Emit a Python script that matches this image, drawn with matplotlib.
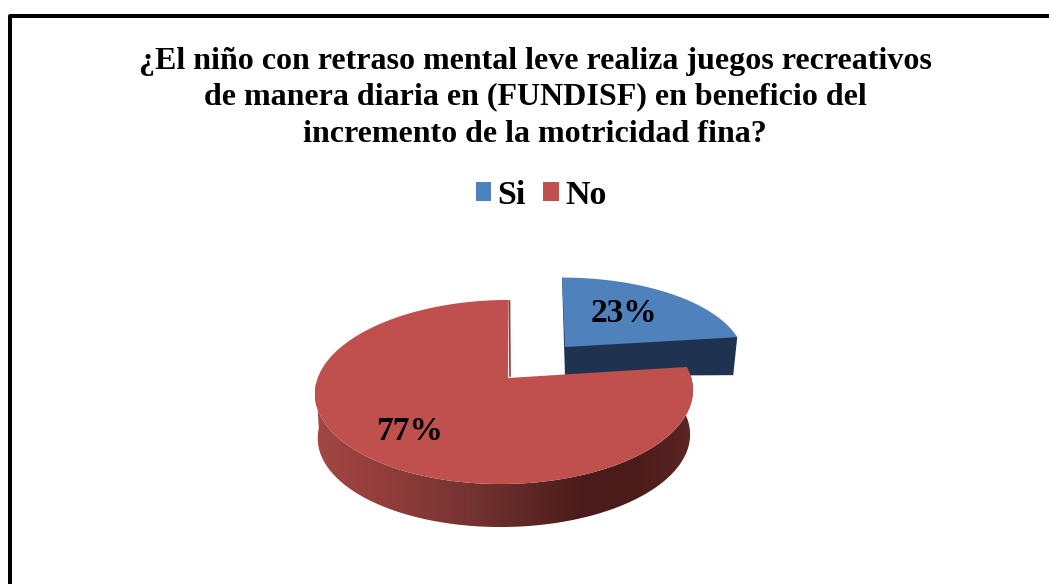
import numpy as np
import matplotlib
matplotlib.use("Agg")
import matplotlib.pyplot as plt
from matplotlib.colors import LinearSegmentedColormap
from matplotlib.patches import Polygon, Patch

categories = ["Si", "No"]
values = [23, 77]
title_lines = ["¿El niño con retraso mental leve realiza juegos recreativos",
               "de manera diaria en (FUNDISF) en beneficio del",
               "incremento de la motricidad fina?"]
top_colors = ["#4F81BD", "#C0504D"]
blue_side = "#1F3350"
red_edge = "#8E3B39"
gradient = ["#A24744", "#973F3D", "#853937", "#723230", "#5E2725", "#4A1B1A", "#4C1C1B", "#5C2624"]

plt.rcParams["font.family"] = ["Liberation Serif", "DejaVu Serif"]
plt.rcParams["font.weight"] = "bold"
W, H = 1049, 584
fig = plt.figure(figsize=(W / 100, H / 100), dpi=100, facecolor="white")
ax = fig.add_axes([0, 0, 1, 1])
ax.set_xlim(0, W)
ax.set_ylim(H, 0)
ax.axis("off")

ax.plot([10, 10, W + 5], [H + 5, 16, 16], color="black", lw=2.9, solid_joinstyle="round", zorder=1)

for line, y in zip(title_lines, [61, 97, 134]):
    ax.text(535, y, line, ha="center", va="center", fontsize=23, fontweight="bold", color="black")


def rim(theta, cx, cy, a, b, k, skew, drop=0.0, scale=1.0):
    X, Y = np.sin(theta), np.cos(theta)
    w = 1 + k * Y
    return np.column_stack([cx + scale * (b * X / w + skew * Y),
                            cy - scale * a * Y / w + drop])


frac = np.array(values) / sum(values)
split = 2 * np.pi * frac[0]

# Blue slice
bcfg = dict(cx=562, cy=347, a=80, b=180, k=0.152, skew=0)
bt = np.linspace(0, split, 120)
bar = rim(bt, **bcfg)
b_apex = np.array([565, 347])
ax.add_patch(Polygon(np.vstack([bar[:1], [b_apex[0], 376], [bar[-1][0] - 4, bar[-1][1] + 38], bar[-1:]]),
                     fc=blue_side, ec="none", zorder=2))
ax.add_patch(Polygon(np.vstack([bar, b_apex]), fc=top_colors[0], ec="none", zorder=3))

# Red slice
rcfg = dict(cx=504.5, cy=378, a=89.9, b=186.8, k=0.152, skew=4)
rt = np.linspace(split, 2 * np.pi, 300)
rar = rim(rt, **rcfg)
side_t = np.linspace(split, 2 * np.pi * 0.74, 200)
side_poly = np.vstack([rim(side_t, **rcfg), rim(side_t, **rcfg, drop=44.6, scale=0.985)[::-1]])
side = Polygon(side_poly, fc="none", ec="none", zorder=4)
ax.add_patch(side)
cmap = LinearSegmentedColormap.from_list("redside", gradient)
im = ax.imshow(np.linspace(0, 1, 256)[None, :], cmap=cmap, extent=(315, 693, 540, 360),
               aspect="auto", zorder=4, interpolation="bilinear")
im.set_clip_path(side)
r_apex = np.array([508, 378])
ax.add_patch(Polygon(np.vstack([rar, r_apex]), fc=top_colors[1], ec="none", zorder=5))
ax.plot([509.5, 510], [301, 376], color=red_edge, lw=1.2, zorder=6)
ax.set_xlim(0, W)
ax.set_ylim(H, 0)

for value, (x, y) in zip(values, [(623.5, 314), (410, 432)]):
    ax.text(x, y, f"{value}%", ha="center", va="center", fontsize=24, fontweight="bold", color="black", zorder=8)

handles = [Patch(fc=c, ec="none", label=n) for c, n in zip(top_colors, categories)]
ax.legend(handles=handles, ncol=2, loc="center", bbox_to_anchor=(541 / W, 1 - 195 / H),
          frameon=False, handlelength=0.47, handleheight=0.47, handletextpad=0.18, columnspacing=0.5,
          prop={"family": "Liberation Serif", "weight": "bold", "size": 24.5})

fig.savefig("out.png", dpi=100)
